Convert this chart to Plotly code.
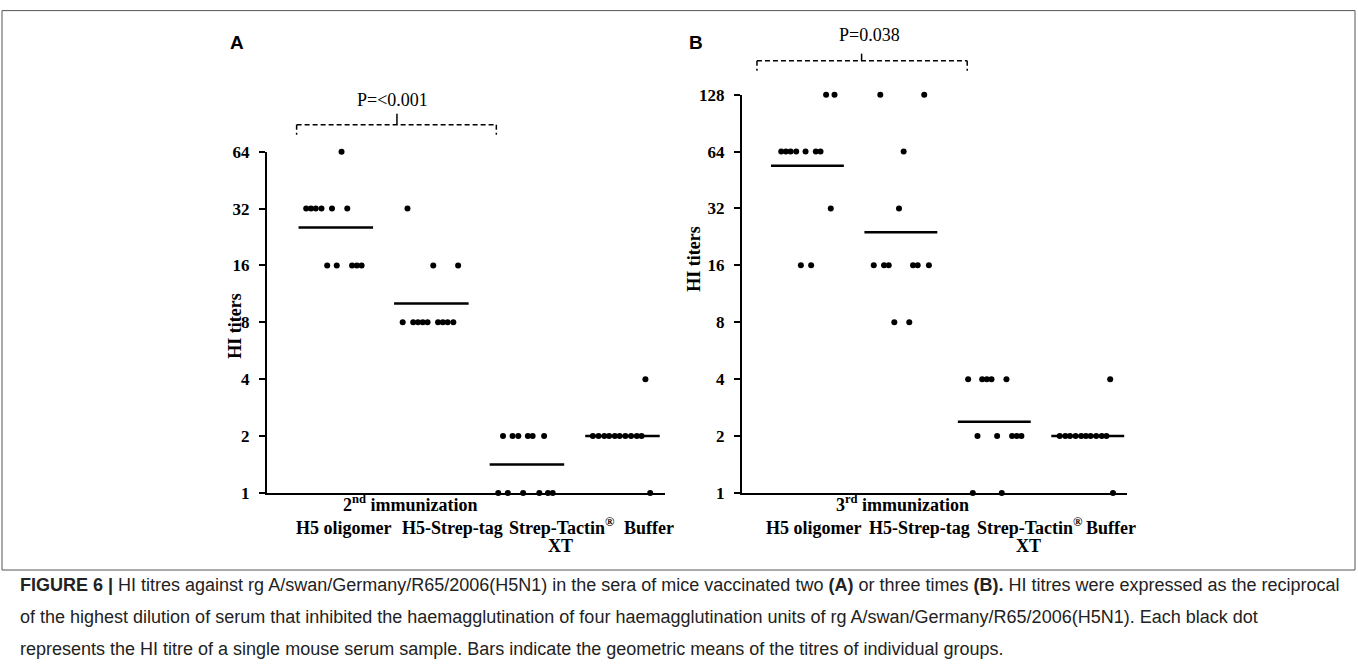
import numpy as np
import plotly.graph_objects as go

W, H = 1358, 672

# ---------------- data ----------------
group_labels = ["H5 oligomer", "H5-Strep-tag", "Strep-Tactin<sup>®</sup>", "Buffer"]
y_ticks_A = [1, 2, 4, 8, 16, 32, 64]
y_ticks_B = [1, 2, 4, 8, 16, 32, 64, 128]

# Panel A: 2nd immunization (HI titres of individual mice)
A_h5_oligomer = [64, 32, 32, 32, 32, 32, 32, 16, 16, 16, 16, 16]
A_h5_streptag = [32, 16, 16, 8, 8, 8, 8, 8, 8, 8, 8, 8]
A_streptactin = [2, 2, 2, 2, 2, 2, 1, 1, 1, 1, 1, 1]
A_buffer = [4, 2, 2, 2, 2, 2, 2, 2, 2, 2, 2, 1]

# Panel B: 3rd immunization
B_h5_oligomer = [128, 128, 64, 64, 64, 64, 64, 64, 64, 32, 16, 16]
B_h5_streptag = [128, 128, 64, 32, 16, 16, 16, 16, 16, 16, 8, 8]
B_streptactin = [4, 4, 4, 4, 4, 2, 2, 2, 2, 2, 1, 1]
B_buffer = [4, 2, 2, 2, 2, 2, 2, 2, 2, 2, 2, 1]

# horizontal scatter of each dot within its group (category units)
A_h5_oligomer_jit = [0.06, -0.31, -0.26, -0.21, -0.15, -0.04, 0.12, -0.09, 0.01, 0.17, 0.22, 0.27]
A_h5_streptag_jit = [-0.25, 0.02, 0.28, -0.30, -0.19, -0.14, -0.09, -0.04, 0.07, 0.12, 0.17, 0.23]
A_streptactin_jit = [-0.25, -0.15, -0.09, 0.01, 0.06, 0.18, -0.30, -0.20, -0.04, 0.13, 0.22, 0.27]
A_buffer_jit = [0.24, -0.31, -0.25, -0.19, -0.14, -0.08, -0.03, 0.03, 0.09, 0.15, 0.20, 0.29]

B_h5_oligomer_jit = [0.20, 0.29, -0.28, -0.23, -0.18, -0.12, -0.02, 0.09, 0.14, 0.25, -0.07, 0.04]
B_h5_streptag_jit = [-0.22, 0.25, 0.03, -0.02, -0.29, -0.18, -0.13, 0.13, 0.18, 0.30, -0.07, 0.09]
B_streptactin_jit = [-0.28, -0.13, -0.08, -0.03, 0.13, -0.18, 0.03, 0.19, 0.24, 0.29, -0.23, 0.08]
B_buffer_jit = [0.24, -0.30, -0.24, -0.19, -0.13, -0.07, -0.02, 0.03, 0.09, 0.15, 0.20, 0.27]

p_A = "P=<0.001"
p_B = "P=0.038"
caption_lines = [
    "<b>FIGURE 6 |</b> HI titres against rg A/swan/Germany/R65/2006(H5N1) in the sera of mice vaccinated two <b>(A)</b> or three times <b>(B).</b> HI titres were expressed as the reciprocal",
    "of the highest dilution of serum that inhibited the haemagglutination of four haemagglutination units of rg A/swan/Germany/R65/2006(H5N1). Each black dot",
    "represents the HI titre of a single mouse serum sample. Bars indicate the geometric means of the titres of individual groups.",
]

panelA = [(A_h5_oligomer, A_h5_oligomer_jit), (A_h5_streptag, A_h5_streptag_jit),
          (A_streptactin, A_streptactin_jit), (A_buffer, A_buffer_jit)]
panelB = [(B_h5_oligomer, B_h5_oligomer_jit), (B_h5_streptag, B_h5_streptag_jit),
          (B_streptactin, B_streptactin_jit), (B_buffer, B_buffer_jit)]

# ---------------- figure ----------------
def px(x):
    return x / W

def py(y):
    # vertical pixel position in the picture -> paper fraction
    yp = (y - 9.4) / 0.971
    return 1 - yp / H

SERIF = "Liberation Serif, Times New Roman, serif"
SANS = "Liberation Sans, Arial, sans-serif"

fig = go.Figure()

def add_panel(panel, xa, ya):
    for i, (vals, jit) in enumerate(panel):
        xs = [i + j for j in jit]
        fig.add_trace(go.Scatter(x=xs, y=vals, mode="markers", xaxis=xa, yaxis=ya,
                                 marker=dict(color="black", size=6), cliponaxis=False,
                                 showlegend=False, hoverinfo="y"))
        gm = float(np.exp(np.mean(np.log(vals))))
        fig.add_trace(go.Scatter(x=[i - 0.39, i + 0.39], y=[gm, gm], mode="lines",
                                 xaxis=xa, yaxis=ya, line=dict(color="black", width=2.5),
                                 cliponaxis=False, showlegend=False, hoverinfo="skip"))

add_panel(panelA, "x", "y")
add_panel(panelB, "x2", "y2")

ybase = dict(type="log", showline=True, linecolor="black", linewidth=2, ticks="outside",
             ticklen=6, tickwidth=1.5, tickcolor="black", showgrid=False, zeroline=False,
             tickfont=dict(family=SERIF, size=17, color="black", weight="bold"), ticklabelstandoff=6)
xbase = dict(showline=True, linecolor="black", linewidth=2, showticklabels=False, ticks="",
             showgrid=False, zeroline=False)

fig.update_layout(
    width=W, height=H, margin=dict(l=0, r=0, t=0, b=0),
    paper_bgcolor="white", plot_bgcolor="white",
    xaxis=dict(xbase, domain=[px(267), px(665)], range=[-0.72, 3.445]),
    yaxis=dict(ybase, domain=[py(493), py(152)], range=[0, np.log10(64)],
               tickvals=y_ticks_A, ticktext=[str(v) for v in y_ticks_A], anchor="x"),
    xaxis2=dict(xbase, domain=[px(742), px(1127)], range=[-0.70, 3.42], anchor="y2"),
    yaxis2=dict(ybase, domain=[py(493), py(95)], range=[0, np.log10(128)],
                tickvals=y_ticks_B, ticktext=[str(v) for v in y_ticks_B], anchor="x2"),
)

shapes = []
ann = []

def text(t, x, y, font, xref="paper", angle=0, xanchor="center", yanchor="middle"):
    ann.append(dict(text=t, xref=xref, yref="paper", x=x, y=py(y), showarrow=False,
                    xanchor=xanchor, yanchor=yanchor, textangle=angle, font=font))

# frame
shapes.append(dict(type="rect", xref="paper", yref="paper", x0=px(2), x1=px(1355), y0=py(570), y1=py(11),
                   line=dict(color="#555555", width=1)))

# significance brackets
def bracket(xref, xl, xr, xc, ytop, yend, ycen):
    d = dict(color="black", width=1.5, dash="5px,3px")
    shapes.append(dict(type="line", xref=xref, yref="paper", x0=xl, x1=xr, y0=py(ytop), y1=py(ytop), line=d))
    shapes.append(dict(type="line", xref=xref, yref="paper", x0=xl, x1=xl, y0=py(ytop), y1=py(yend), line=d))
    shapes.append(dict(type="line", xref=xref, yref="paper", x0=xr, x1=xr, y0=py(ytop), y1=py(yend), line=d))
    shapes.append(dict(type="line", xref=xref, yref="paper", x0=xc, x1=xc, y0=py(ytop), y1=py(ycen),
                       line=dict(color="black", width=1.5)))

bracket("x", -0.41, 1.68, 0.64, 125, 135, 114)
bracket("x2", -0.54, 1.71, 0.58, 61, 71, 54)
pfont = dict(family=SERIF, size=18, color="black")
text(p_A, 0.59, 100, pfont, xref="x")
text(p_B, 0.66, 35, pfont, xref="x2")

# panel letters
letter_font = dict(family=SANS, size=19, color="black")
text("<b>A</b>", px(237), 43, letter_font)
text("<b>B</b>", px(696), 43, letter_font)

# axis titles
lab_font = dict(family=SERIF, size=18, color="black", weight="bold")
text("HI titers", px(235), 327, lab_font, angle=-90)
text("HI titers", px(694), 260, lab_font, angle=-90)
text("2<sup>nd</sup> immunization", px(410), 517, lab_font, yanchor="bottom")
text("3<sup>rd</sup> immunization", px(902), 517, lab_font, yanchor="bottom")

# category labels
labA_x = [343, 452, 562, 649]
labB_x = [813, 919, 1030, 1111]
for xs, xt in ((labA_x, 560), (labB_x, 1028)):
    for lab, xx in zip(group_labels, xs):
        text(lab, px(xx), 540, lab_font, yanchor="bottom")
    text("XT", px(xt), 558, lab_font, yanchor="bottom")

# caption
cap_font = dict(family=SANS, size=18, color="#222222")
for k, line in enumerate(caption_lines):
    text(line, px(18), 585 + 32 * k, cap_font, xanchor="left")

fig.update_layout(shapes=shapes, annotations=ann)
fig.write_html("out.html", config={"displayModeBar": False},
               post_script="document.body.style.margin='0';")
